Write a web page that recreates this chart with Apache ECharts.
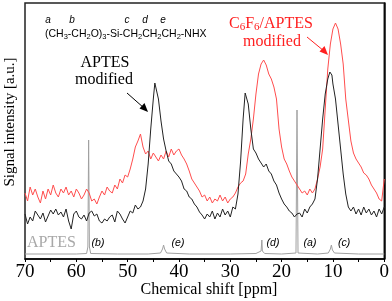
<!DOCTYPE html>
<html><head><meta charset="utf-8">
<script src="https://cdn.jsdelivr.net/npm/echarts@6/dist/echarts.min.js"></script>
<style>html,body{margin:0;padding:0;background:#fff}#c{width:392px;height:301px}</style>
</head><body><div id="c"></div>
<script>
// ppm positions (0.5 ppm steps unless noted) and intensities (arbitrary units)
const blackPpm = [70,69.5,69,68.5,68,67.5,67,66.5,66,65.5,65,64.5,64,63.5,63,62.5,62,61.5,61,60.5,60,59.5,59,58.5,58,57.5,57,56.5,56,55.5,55,54.5,54,53.5,53,52.5,52,51.5,51,50.5,50,49.5,49,48.5,48,47.5,47,46.5,46,45.5,45,44.7,44.5,44,43.5,43,42.5,42,41.5,41,40.5,40,39.5,39,38.5,38,37.5,37,36.5,36,35.5,35,34.5,34,33.5,33,32.5,32,31.5,31,30.5,30,29.5,29,28.5,28,27.5,27.1,26.5,26,25.5,25,24.5,24,23.5,23,22.5,22,21.5,21,20.5,20,19.5,19,18.5,18,17.5,17,16.5,16,15.5,15,14.5,14,13.5,13,12.5,12,11.5,11,10.6,10.2,10,9.5,9,8.5,8,7.5,7,6.5,6,5.5,5,4.5,4,3.5,3,2.5,2,1.5,1,0.5,0];
const blackVal = [45,35,42,38,48,44,40,46,37,43,49,45,50,44,47,42,50,38,30,45,48,42,40,44,38,46,48,43,45,38,36,40,38,42,44,37,48,45,40,36,42,48,46,54,50,52,58,70,95,130,160,176,175,160,138,120,108,98,95,88,85,82,78,70,68,62,60,55,52,47,44,40,45,42,48,40,46,42,50,44,48,42,52,50,65,97,140,166,155,130,110,106,100,96,92,95,88,85,78,74,66,60,55,52,48,46,42,45,46,42,50,46,52,55,60,80,110,140,165,180,187,184,175,160,135,110,85,65,52,48,52,45,50,44,52,46,50,44,48,42,50,45,52];

const redPpm = [70,69.5,69,68.5,68,67.5,67,66.5,66,65.5,65,64.5,64,63.5,63,62.5,62,61.5,61,60.5,60,59.5,59,58.5,58,57.5,57,56.5,56,55.5,55,54.5,54,53.5,53,52.5,52,51.5,51,50.5,50,49.5,49,48.5,48,47.5,47,46.5,46,45.5,45,44.5,44,43.5,43,42.5,42,41.5,41,40.5,40,39.5,39,38.5,38,37.5,37,36.5,36,35.5,35,34.5,34,33.5,33,32.5,32,31.5,31,30.5,30,29.5,29,28.5,28,27.5,27,26.5,26,25.5,25,24.5,24,23.5,23.2,23,22.5,22,21.5,21,20.5,20,19.5,19,18.5,18,17.5,17,16.5,16,15.5,15,14.5,14,13.5,13,12.5,12,11.5,11,10.5,10,9.5,9.2,9,8.5,8,7.5,7,6.5,6,5.5,5,4.5,4,3.5,3,2.5,2,1.5,1,0.5,0];
const redVal = [66,58,72,64,70,62,56,68,60,70,64,74,66,62,70,66,72,64,68,62,70,66,60,64,70,66,58,60,55,62,68,64,72,68,66,74,70,80,76,84,82,90,100,112,118,125,112,105,108,100,106,102,98,104,100,108,102,110,104,108,110,104,100,95,88,80,76,72,68,62,64,58,62,56,60,58,64,58,62,56,60,62,66,72,76,78,85,105,120,140,165,185,195,199,198,194,185,180,172,160,130,112,100,95,88,82,78,74,70,66,68,64,70,66,70,80,92,110,150,190,215,230,236,235,230,215,195,160,139,118,106,100,96,92,86,84,80,74,70,66,60,58,80];

const grayPpm = [70,60,58,57.75,57.6,57.45,57.2,52,46,43.6,43.2,43.0,42.8,42.4,38,30,25,24.0,23.85,23.75,23.6,23.3,20,17.2,17.0,16.8,16.5,13,10.9,10.5,10.3,10.1,9.7,5,0];
const grayVal = [5,5,5.5,12,119,12,5.5,5,5,6,10,14,10,6,5,5,5.5,8,19,8,6,5.5,5,6,149,6,5,5,6,10,14,9,6,5,5];

const xTicks = [0,10,20,30,40,50,60,70];

const pairs = (xs, ys) => xs.map((x, i) => [x, ys[i]]);

const chart = echarts.init(document.getElementById('c'), null, {renderer: 'canvas'});
const serif = '"Liberation Serif", "Times New Roman", serif';
const sans = '"Liberation Sans", Arial, sans-serif';

chart.setOption({
  animation: false,
  grid: {left: 25, right: 6, top: 3, bottom: 42, show: true, borderColor: '#222', borderWidth: 1.5, backgroundColor: 'transparent'},
  xAxis: {
    type: 'value', min: 0, max: 70, interval: 10, inverse: true,
    axisLine: {show: true, onZero: false, lineStyle: {color: '#000', width: 1.5}},
    axisTick: {show: true, inside: false, length: 3, lineStyle: {color: '#000', width: 1}},
    minorTick: {show: true, splitNumber: 2, length: 3, lineStyle: {color: '#000', width: 1}},
    splitLine: {show: false},
    axisLabel: {fontFamily: serif, fontSize: 19, color: '#000', margin: 4,
      formatter: v => xTicks.includes(v) ? String(v) : ''}
  },
  yAxis: {
    type: 'value', min: 0, max: 256,
    axisLine: {show: true, lineStyle: {color: '#000', width: 1.5}},
    axisTick: {show: false}, axisLabel: {show: false}, splitLine: {show: false}
  },
  series: [
    {type: 'line', data: pairs(grayPpm, grayVal), symbol: 'none', lineStyle: {color: '#a0a0a0', width: 1}, z: 1},
    {type: 'line', data: pairs(redPpm, redVal), symbol: 'none', lineStyle: {color: '#ff4d4d', width: 1}, z: 2},
    {type: 'line', data: pairs(blackPpm, blackVal), symbol: 'none', lineStyle: {color: '#222', width: 1}, z: 3}
  ],
  graphic: [
    {type: 'text', x: 209, y: 290, style: {text: 'Chemical shift [ppm]', font: '16px ' + serif, fill: '#000', align: 'center', verticalAlign: 'middle'}},
    {type: 'text', x: 10, y: 122, rotation: Math.PI / 2, style: {text: 'Signal intensity [a.u.]', font: '15px ' + serif, fill: '#000', align: 'center', verticalAlign: 'middle'}},
    // formula letters
    {type: 'text', x: 48, y: 20, style: {text: 'a', font: 'italic 10px ' + sans, fill: '#000', align: 'center', verticalAlign: 'middle'}},
    {type: 'text', x: 72, y: 20, style: {text: 'b', font: 'italic 10px ' + sans, fill: '#000', align: 'center', verticalAlign: 'middle'}},
    {type: 'text', x: 127, y: 20, style: {text: 'c', font: 'italic 10px ' + sans, fill: '#000', align: 'center', verticalAlign: 'middle'}},
    {type: 'text', x: 145, y: 20, style: {text: 'd', font: 'italic 10px ' + sans, fill: '#000', align: 'center', verticalAlign: 'middle'}},
    {type: 'text', x: 163, y: 20, style: {text: 'e', font: 'italic 10px ' + sans, fill: '#000', align: 'center', verticalAlign: 'middle'}},
    {type: 'text', x: 45, y: 34, style: {
      text: '(CH{s|3}-CH{s|2}O){s|3}-Si-CH{s|2}CH{s|2}CH{s|2}-NHX',
      font: '10.5px ' + sans, fill: '#000', verticalAlign: 'middle',
      rich: {s: {fontSize: 7.5, fontFamily: sans, fill: '#000', padding: [5, 0, 0, 0]}}
    }},
    // APTES modified label + arrow
    {type: 'text', x: 105, y: 63, style: {text: 'APTES', font: '16px ' + serif, fill: '#000', align: 'center', verticalAlign: 'middle'}},
    {type: 'text', x: 104, y: 80, style: {text: 'modified', font: '16px ' + serif, fill: '#000', align: 'center', verticalAlign: 'middle'}},
    {type: 'line', shape: {x1: 127, y1: 93, x2: 144, y2: 108}, style: {stroke: '#000', lineWidth: 1}},
    {type: 'polygon', shape: {points: [[148, 112], [139.5, 108.5], [144.5, 103]]}, style: {fill: '#000'}},
    // C6F6/APTES modified label + arrow
    {type: 'text', x: 271, y: 24, style: {
      text: 'C{s|6}F{s|6}/APTES', font: '16px ' + serif, fill: '#ff2020', align: 'center', verticalAlign: 'middle',
      rich: {s: {fontSize: 11, fontFamily: serif, fill: '#ff2020', padding: [7, 0, 0, 0]}}
    }},
    {type: 'text', x: 272, y: 42, style: {text: 'modified', font: '16px ' + serif, fill: '#ff2020', align: 'center', verticalAlign: 'middle'}},
    {type: 'line', shape: {x1: 307, y1: 37, x2: 324, y2: 51}, style: {stroke: '#ff2020', lineWidth: 1}},
    {type: 'polygon', shape: {points: [[328, 55], [319.5, 51.5], [324.5, 46]]}, style: {fill: '#ff2020'}},
    // APTES reference labels
    {type: 'text', x: 27, y: 243, style: {text: 'APTES', font: '16px ' + serif, fill: '#a8a8a8', verticalAlign: 'middle'}},
    {type: 'text', x: 98, y: 243, style: {text: '(b)', font: 'italic 10.5px ' + sans, fill: '#000', align: 'center', verticalAlign: 'middle'}},
    {type: 'text', x: 178, y: 243, style: {text: '(e)', font: 'italic 10.5px ' + sans, fill: '#000', align: 'center', verticalAlign: 'middle'}},
    {type: 'text', x: 273, y: 243, style: {text: '(d)', font: 'italic 10.5px ' + sans, fill: '#000', align: 'center', verticalAlign: 'middle'}},
    {type: 'text', x: 310, y: 243, style: {text: '(a)', font: 'italic 10.5px ' + sans, fill: '#000', align: 'center', verticalAlign: 'middle'}},
    {type: 'text', x: 344, y: 243, style: {text: '(c)', font: 'italic 10.5px ' + sans, fill: '#000', align: 'center', verticalAlign: 'middle'}}
  ]
});
</script></body></html>
